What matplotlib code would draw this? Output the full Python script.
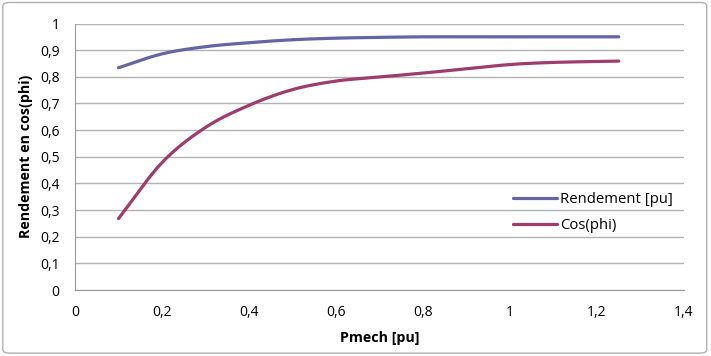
import numpy as np
import matplotlib.pyplot as plt
from matplotlib.patches import FancyBboxPatch

plt.rcParams['font.family'] = ['Open Sans', 'DejaVu Sans']

# valeurs
pmech = [0.1, 0.2, 0.3, 0.4, 0.5, 0.6, 0.7, 0.8, 0.9, 1.0, 1.1, 1.25]
rendement = [0.834, 0.886, 0.913, 0.928, 0.939, 0.945, 0.948, 0.950, 0.950, 0.950, 0.950, 0.950]
cosphi = [0.268, 0.478, 0.610, 0.693, 0.752, 0.784, 0.799, 0.814, 0.830, 0.846, 0.854, 0.859]

x_ticks = [0, 0.2, 0.4, 0.6, 0.8, 1, 1.2, 1.4]
y_ticks = [0, 0.1, 0.2, 0.3, 0.4, 0.5, 0.6, 0.7, 0.8, 0.9, 1]


def smooth(x, y, n=20):
    # lissage type Excel (Catmull-Rom)
    x = np.asarray(x, float); y = np.asarray(y, float)
    px = np.concatenate([[2 * x[0] - x[1]], x, [2 * x[-1] - x[-2]]])
    py = np.concatenate([[2 * y[0] - y[1]], y, [2 * y[-1] - y[-2]]])
    t = np.linspace(0, 1, n)
    xs, ys = [], []
    for i in range(1, len(px) - 2):
        for p, out in ((px, xs), (py, ys)):
            p0, p1, p2, p3 = p[i - 1], p[i], p[i + 1], p[i + 2]
            out.extend(0.5 * (2 * p1 + (-p0 + p2) * t + (2 * p0 - 5 * p1 + 4 * p2 - p3) * t ** 2
                              + (-p0 + 3 * p1 - 3 * p2 + p3) * t ** 3))
    return xs, ys


def fmt(v):
    # virgule décimale
    return ('%g' % v).replace('.', ',')


fig = plt.figure(figsize=(7.11, 3.56), dpi=100)
fig.patches.append(FancyBboxPatch((0.004, 0.008), 0.99, 0.985, boxstyle='round,pad=0,rounding_size=0.01',
                                  transform=fig.transFigure, fill=False, edgecolor='#b0b0b0', linewidth=1))
ax = fig.add_axes([75 / 711, 1 - 290 / 356, (684 - 75) / 711, (290 - 23.5) / 356])

c_rend = '#6466a4'
c_cos = '#9e3c6e'
xs, ys = smooth(pmech, rendement)
ax.plot(xs, ys, color=c_rend, linewidth=2.3, solid_capstyle='round', label='Rendement [pu]')
xs, ys = smooth(pmech, cosphi)
ax.plot(xs, ys, color=c_cos, linewidth=2.3, solid_capstyle='round', label='Cos(phi)')

ax.set_xlim(0, 1.4)
ax.set_ylim(0, 1)
ax.set_xticks(x_ticks)
ax.set_yticks(y_ticks)
ax.set_xticklabels([fmt(v) for v in x_ticks])
ax.set_yticklabels([fmt(v) for v in y_ticks])
ax.tick_params(length=0, labelsize=10, colors='black')
ax.tick_params(axis='x', pad=11)
ax.tick_params(axis='y', pad=11)
ax.grid(axis='y', color='#b3b3b3', linewidth=1)
ax.set_axisbelow(True)
for s in ['top', 'right']:
    ax.spines[s].set_visible(False)
for s in ['left', 'bottom']:
    ax.spines[s].set_color('#9a9a9a')

ax.set_xlabel('Pmech [pu]', fontsize=10.3, fontweight='bold', labelpad=8)
ax.set_ylabel('Rendement en cos(phi)', fontsize=10.3, fontweight='bold', labelpad=5)

ax.legend(loc='upper left', bbox_to_anchor=(0.719, 0.366), frameon=False, fontsize=10.7,
          handlelength=2.95, handletextpad=0.2, labelspacing=0.7, borderaxespad=0, borderpad=0)

fig.savefig('out.png', dpi=100)
